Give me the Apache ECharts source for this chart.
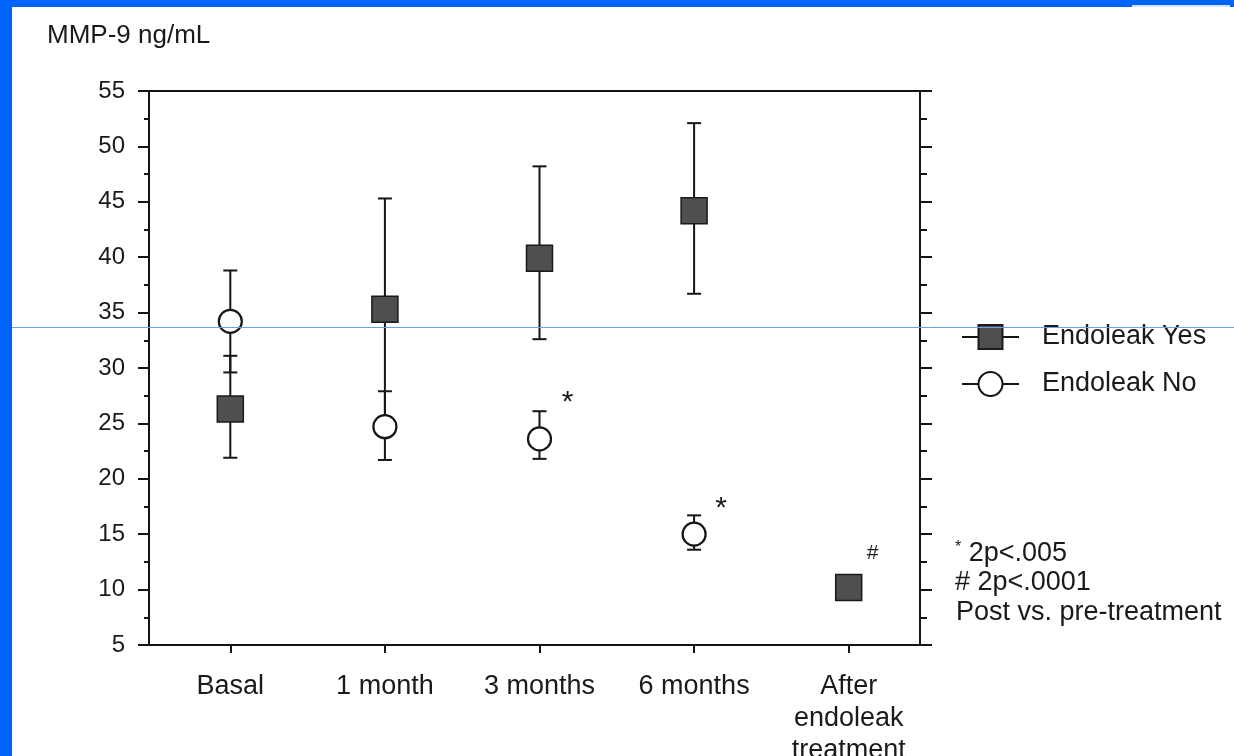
<!DOCTYPE html>
<html>
<head>
<meta charset="utf-8">
<script src="https://cdn.jsdelivr.net/npm/echarts@6/dist/echarts.min.js"></script>
<style>
  html, body { margin: 0; padding: 0; background: #ffffff; }
  #chart { width: 1234px; height: 756px; }
</style>
</head>
<body>
<div id="chart"></div>
<script>
// MMP-9 (ng/mL) over follow-up, mean with error bars, by endoleak status
const categories = ['Basal', '1 month', '3 months', '6 months', 'After\nendoleak\ntreatment'];

const yesMean = [26.3, 35.3, 39.9, 44.2, 10.2];
const yesLow  = [21.9, 25.4, 32.6, 36.7, null];
const yesHigh = [31.1, 45.3, 48.2, 52.1, null];

const noMean = [34.2, 24.7, 23.6, 15.0, null];
const noLow  = [29.6, 21.7, 21.8, 13.6, null];
const noHigh = [38.8, 27.9, 26.1, 16.7, null];

// significance marks attached to points
const yesMarks = ['', '', '', '', '#'];
const noMarks  = ['', '', '*', '*', ''];

const yMin = 5, yMax = 55, yStep = 5;

const yAxisTitle = 'MMP-9 ng/mL';
const footnotes = ['2p<.005', '# 2p<.0001', 'Post vs. pre-treatment'];

const FONT = "'Liberation Sans', Arial, Helvetica, sans-serif";
const INK = '#1a1a1a';

const chart = echarts.init(document.getElementById('chart'), null, { renderer: 'canvas' });

function errorBars(name, low, high, z) {
  const data = [];
  low.forEach((l, i) => { if (l != null) data.push([i, l, high[i]]); });
  return {
    type: 'custom',
    name: name,
    xAxisIndex: 1,
    yAxisIndex: 2,
    z: z,
    silent: true,
    data: data,
    encode: { x: 0, y: [1, 2] },
    renderItem: function (params, api) {
      const x = api.value(0);
      const lo = api.coord([x, api.value(1)]);
      const hi = api.coord([x, api.value(2)]);
      const cap = 7;
      const style = { stroke: '#151515', lineWidth: 2 };
      return {
        type: 'group',
        children: [
          { type: 'line', shape: { x1: lo[0], y1: lo[1], x2: hi[0], y2: hi[1] }, style: style },
          { type: 'line', shape: { x1: lo[0] - cap, y1: lo[1], x2: lo[0] + cap, y2: lo[1] }, style: style },
          { type: 'line', shape: { x1: hi[0] - cap, y1: hi[1], x2: hi[0] + cap, y2: hi[1] }, style: style }
        ]
      };
    }
  };
}

const option = {
  backgroundColor: '#ffffff',
  animation: false,
  textStyle: { fontFamily: FONT, color: INK },
  grid: [
    { left: 149, right: 314, top: 91, bottom: 111, outerBoundsMode: 'none', containLabel: false,
      show: true, borderColor: '#151515', borderWidth: 2, backgroundColor: 'transparent' },
    { left: 153, right: 308, top: 91, bottom: 111, outerBoundsMode: 'none', containLabel: false }
  ],
  legend: {
    data: ['Endoleak Yes', 'Endoleak No'],
    orient: 'vertical',
    left: 956,
    top: 317,
    itemWidth: 57,
    itemHeight: 30,
    itemGap: 17,
    selectedMode: false,
    lineStyle: { width: 2, color: '#151515', opacity: 1 },
    textStyle: { fontFamily: FONT, fontSize: 27, color: INK, lineHeight: 30, padding: [0, 0, 0, 18] }
  },
  xAxis: [
    {
      gridIndex: 0, type: 'category', data: categories,
      axisLine: { show: true, lineStyle: { color: '#151515', width: 2 } },
      axisTick: { show: false }, axisLabel: { show: false }, splitLine: { show: false }
    },
    {
      gridIndex: 1, type: 'category', data: categories, boundaryGap: true,
      axisLine: { show: false },
      axisTick: { show: true, alignWithLabel: true, length: 8, lineStyle: { color: '#151515', width: 2 } },
      axisLabel: { fontFamily: FONT, fontSize: 27, color: INK, margin: 26, lineHeight: 32, interval: 0 },
      splitLine: { show: false }
    }
  ],
  yAxis: [
    {
      gridIndex: 0, type: 'value', position: 'left', min: yMin, max: yMax, interval: yStep,
      axisLine: { show: true, lineStyle: { color: '#151515', width: 2 } },
      axisTick: { show: true, length: 11, lineStyle: { color: '#151515', width: 2 } },
      minorTick: { show: true, splitNumber: 2, length: 5, lineStyle: { color: '#151515', width: 2 } },
      axisLabel: { fontFamily: FONT, fontSize: 24, color: INK, margin: 24 },
      splitLine: { show: false }
    },
    {
      gridIndex: 0, type: 'value', position: 'right', min: yMin, max: yMax, interval: yStep,
      axisLine: { show: true, lineStyle: { color: '#151515', width: 2 } },
      axisTick: { show: true, length: 12, lineStyle: { color: '#151515', width: 2 } },
      minorTick: { show: true, splitNumber: 2, length: 7, lineStyle: { color: '#151515', width: 2 } },
      axisLabel: { show: false },
      splitLine: { show: false }
    },
    {
      gridIndex: 1, type: 'value', min: yMin, max: yMax, interval: yStep, show: false
    }
  ],
  series: [
    errorBars('Yes range', yesLow, yesHigh, 2),
    errorBars('No range', noLow, noHigh, 2),
    {
      name: 'Endoleak Yes', type: 'line', xAxisIndex: 1, yAxisIndex: 2, z: 3,
      data: yesMean,
      symbol: 'rect', symbolSize: 26, showSymbol: true, silent: true,
      lineStyle: { width: 0, opacity: 0 },
      itemStyle: { color: '#4f4f4f', borderColor: '#1a1a1a', borderWidth: 1.5 }
    },
    {
      name: 'Endoleak No', type: 'line', xAxisIndex: 1, yAxisIndex: 2, z: 4,
      data: noMean,
      symbol: 'circle', symbolSize: 23, showSymbol: true, silent: true,
      lineStyle: { width: 0, opacity: 0 },
      itemStyle: { color: '#ffffff', borderColor: '#151515', borderWidth: 2.2 }
    }
  ]
};

chart.setOption(option);

// static decorations and annotation text
const graphics = [
  { type: 'rect', shape: { x: 0, y: 0, width: 12, height: 756 }, style: { fill: '#0064fb' }, z: 100 },
  { type: 'rect', shape: { x: 0, y: 0, width: 1234, height: 7 }, style: { fill: '#0064fb' }, z: 100 },
  { type: 'rect', shape: { x: 1132, y: 5, width: 98, height: 2 }, style: { fill: '#d4e1f7' }, z: 101 },
  { type: 'line', shape: { x1: 12, y1: 327.5, x2: 1234, y2: 327.5 }, style: { stroke: '#6d9eea', lineWidth: 1 }, z: 100 },
  {
    type: 'text', x: 47, y: 36, z: 50,
    style: { text: yAxisTitle, font: '26px ' + FONT, fill: INK, verticalAlign: 'middle' }
  },
  {
    type: 'text', x: 955, y: 553.5, z: 50,
    style: {
      text: '{s|*} ' + footnotes[0], verticalAlign: 'middle', fill: INK, font: '27px ' + FONT,
      rich: { s: { fontSize: 16, fontFamily: FONT, fill: INK, verticalAlign: 'top', padding: [0, 0, 4, 0] } }
    }
  },
  { type: 'text', x: 955, y: 583, z: 50, style: { text: footnotes[1], font: '27px ' + FONT, fill: INK, verticalAlign: 'middle' } },
  { type: 'text', x: 956, y: 612.5, z: 50, style: { text: footnotes[2], font: '27px ' + FONT, fill: INK, verticalAlign: 'middle' } }
];

// significance marks sit up and to the right of their point
const noMarkShift = [null, null, [28, -36], [27, -25], null];
const yesMarkShift = [null, null, null, null, [24, -34]];

function addMarks(marks, means, shifts) {
  marks.forEach((m, i) => {
    if (!m || means[i] == null) return;
    const p = chart.convertToPixel({ xAxisIndex: 1, yAxisIndex: 2 }, [i, means[i]]);
    const s = shifts[i];
    graphics.push({
      type: 'text', x: p[0] + s[0], y: p[1] + s[1], z: 50,
      style: {
        text: m, font: (m === '*' ? '30px ' : '21px ') + FONT, fill: INK,
        align: 'center', verticalAlign: 'middle'
      }
    });
  });
}
addMarks(noMarks, noMean, noMarkShift);
addMarks(yesMarks, yesMean, yesMarkShift);

chart.setOption({ graphic: graphics });
</script>
</body>
</html>
